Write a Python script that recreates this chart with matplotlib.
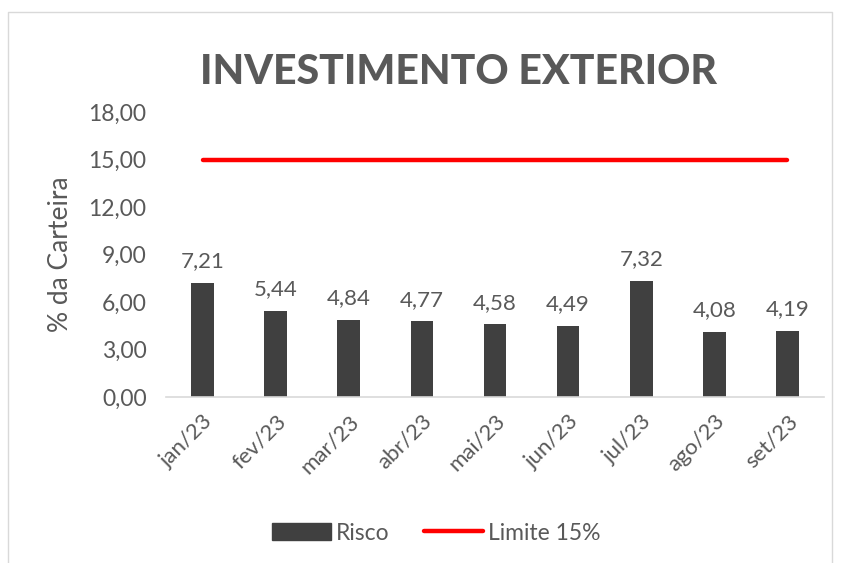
import matplotlib.pyplot as plt
from matplotlib.lines import Line2D

meses = ['jan/23', 'fev/23', 'mar/23', 'abr/23', 'mai/23', 'jun/23', 'jul/23', 'ago/23', 'set/23']
risco = [7.21, 5.44, 4.84, 4.77, 4.58, 4.49, 7.32, 4.08, 4.19]
limite = [15.0] * len(meses)
yticks = [0, 3, 6, 9, 12, 15, 18]

txt = '#595959'
plt.rcParams['font.family'] = ['Lato', 'DejaVu Sans']

fig = plt.figure(figsize=(8.42, 5.63), dpi=100)
ax = fig.add_axes([166/842, 1 - 397/563, (824 - 166)/842, (397 - 112)/563])

x = list(range(len(meses)))
ax.bar(x, risco, width=0.31, color='#404040', label='Risco', zorder=2)
ax.plot(x, limite, color='#ff0000', lw=3.2, solid_capstyle='round', label='Limite 15%', zorder=3)

for xi, v in zip(x, risco):
    ax.text(xi, v + 0.75, f'{v:.2f}'.replace('.', ','), ha='center', va='bottom',
            fontsize=16, color=txt)

ax.set_xlim(-0.5, len(meses) - 0.5)
ax.set_ylim(0, 18)
ax.set_yticks(yticks)
ax.set_yticklabels([f'{t:.2f}'.replace('.', ',') for t in yticks], fontsize=16.5, color=txt)
ax.set_xticks(x)
ax.set_xticklabels(meses, rotation=45, ha='right', rotation_mode='anchor', fontsize=16, color=txt)
ax.tick_params(axis='both', length=0)
ax.tick_params(axis='y', pad=14)
ax.tick_params(axis='x', pad=10)
for s in ['top', 'right', 'left']:
    ax.spines[s].set_visible(False)
ax.spines['bottom'].set_color('#d9d9d9')
ax.spines['bottom'].set_linewidth(1.2)

ax.set_ylabel('% da Carteira', fontsize=19, color=txt)
ax.yaxis.set_label_coords(-0.142, 0.5)

fig.text(458/842, 1 - 72/563, 'INVESTIMENTO EXTERIOR', ha='center', va='center',
         fontsize=29.5, fontweight='black', color=txt)

handles = [plt.Rectangle((0, 0), 1, 1, color='#404040'),
           Line2D([0], [0], color='#ff0000', lw=3.2, solid_capstyle='round')]
fig.legend(handles, ['Risco', 'Limite 15%'], loc='center', bbox_to_anchor=(436/842, 1 - 533/563),
           ncol=2, frameon=False, fontsize=16.5, labelcolor=txt, handlelength=2.6,
           handletextpad=0.2, columnspacing=1.5)

# light frame around the chart
fig.add_artist(Line2D([8/842, 8/842, 832/842, 832/842], [0, 1 - 12/563, 1 - 12/563, 0],
                      transform=fig.transFigure, color='#d9d9d9', lw=1))

fig.savefig('out.png', dpi=100)
